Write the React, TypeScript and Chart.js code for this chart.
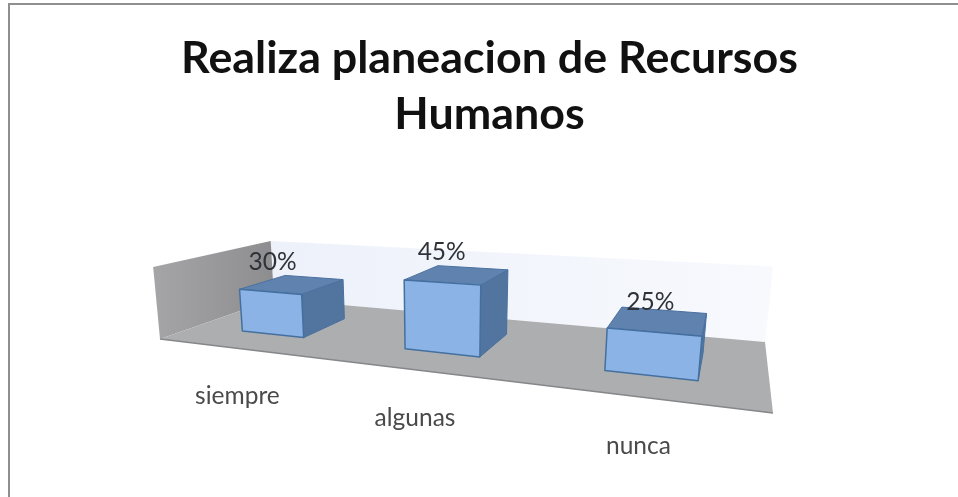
import React, { useEffect, useRef } from "react";
import { Chart, registerables } from "chart.js";

Chart.register(...registerables);

const titleLines = ["Realiza planeacion de Recursos", "Humanos"];
const categories = ["siempre", "algunas", "nunca"];
const percentages = [30, 45, 25];
const axisMax = 50;

// Perspective of the floor: front-left, front-right, back-right, back-left
const floorQuad = [[160, 339], [773, 413], [765, 342], [274, 299]];
const wallPixelHeight = 72;
const FRONT = 0.28;
const BACK = 0.7;
const BAR_SHIFT = 0.005;

function makeHomography() {
  const [p0, p1, p2, p3] = floorQuad;
  const dx1 = p1[0] - p2[0], dx2 = p3[0] - p2[0], sx = p0[0] - p1[0] + p2[0] - p3[0];
  const dy1 = p1[1] - p2[1], dy2 = p3[1] - p2[1], sy = p0[1] - p1[1] + p2[1] - p3[1];
  const den = dx1 * dy2 - dx2 * dy1;
  const g = (sx * dy2 - dx2 * sy) / den;
  const h = (dx1 * sy - sx * dy1) / den;
  const a = p1[0] - p0[0] + g * p1[0], b = p3[0] - p0[0] + h * p3[0], c = p0[0];
  const d = p1[1] - p0[1] + g * p1[1], e = p3[1] - p0[1] + h * p3[1], f = p0[1];
  return { a, b, c, d, e, f, g, h };
}
const H = makeHomography();

function projectNorm(u: number, v: number, t: number) {
  const w = H.g * u + H.h * v + 1;
  const x0 = (H.a * u + H.b * v + H.c) / w;
  const y0 = (H.d * u + H.e * v + H.f) / w;
  const dy = (wallPixelHeight * t) / w;
  return { x: x0 + (x0 - 443) * 0.000335 * dy, y: y0 - dy };
}

function poly(ctx: CanvasRenderingContext2D, pts: { x: number; y: number }[], fill: any, stroke?: string, lw = 1) {
  ctx.beginPath();
  pts.forEach((p, i) => (i ? ctx.lineTo(p.x, p.y) : ctx.moveTo(p.x, p.y)));
  ctx.closePath();
  ctx.fillStyle = fill;
  ctx.fill();
  if (stroke) {
    ctx.strokeStyle = stroke;
    ctx.lineWidth = lw;
    ctx.lineJoin = "round";
    ctx.stroke();
  }
}

const scene3d = {
  id: "scene3d",
  beforeDatasetsDraw(chart: any) {
    const { ctx, scales } = chart;
    const xs = scales.x, ys = scales.y;
    const uOf = (px: number) => (px - xs.left) / xs.width + BAR_SHIFT;
    const tOf = (py: number) => (ys.bottom - py) / ys.height;
    ctx.save();

    // page frame
    ctx.strokeStyle = "#8f8f8f";
    ctx.lineWidth = 2;
    ctx.beginPath();
    ctx.moveTo(9, 497);
    ctx.lineTo(9, 4);
    ctx.lineTo(958, 4);
    ctx.stroke();

    // back wall
    const bw = [projectNorm(0, 1, 0), projectNorm(1, 1, 0), projectNorm(1, 1, 1), projectNorm(0, 1, 1)];
    const bwGrad = ctx.createLinearGradient(bw[0].x, 0, bw[1].x, 0);
    bwGrad.addColorStop(0, "#edf1fa");
    bwGrad.addColorStop(1, "#f7f9fd");
    poly(ctx, bw, bwGrad);

    // side wall
    const sw = [projectNorm(0, 0, 0), projectNorm(0, 1, 0), projectNorm(0, 1, 1), projectNorm(0, 0, 1)];
    const swGrad = ctx.createLinearGradient(sw[3].x, 0, sw[2].x, 0);
    swGrad.addColorStop(0, "#a5a5a7");
    swGrad.addColorStop(1, "#8e8e90");
    poly(ctx, sw, swGrad);

    // floor
    const fl = [projectNorm(0, 0, 0), projectNorm(1, 0, 0), projectNorm(1, 1, 0), projectNorm(0, 1, 0)];
    poly(ctx, fl, "#adaeb0");
    ctx.strokeStyle = "#85878a";
    ctx.lineWidth = 1.5;
    ctx.beginPath();
    ctx.moveTo(fl[0].x, fl[0].y);
    ctx.lineTo(fl[1].x, fl[1].y);
    ctx.stroke();

    // bars, from the elements of the bar dataset
    const meta = chart.getDatasetMeta(0);
    meta.data.forEach((bar: any) => {
      const l = uOf(bar.x - bar.width / 2), r = uOf(bar.x + bar.width / 2);
      const top = tOf(bar.y), bot = tOf(bar.base);
      const P = (u: number, v: number, t: number) => projectNorm(u, v, t);
      const edge = "#4a719f";
      poly(ctx, [P(r, FRONT, bot), P(r, BACK, bot), P(r, BACK, top), P(r, FRONT, top)], "#52759f", edge);
      poly(ctx, [P(l, FRONT, top), P(r, FRONT, top), P(r, BACK, top), P(l, BACK, top)], "#5f82af", edge);
      poly(ctx, [P(l, FRONT, bot), P(r, FRONT, bot), P(r, FRONT, top), P(l, FRONT, top)], "#8cb3e6", "#44709f", 1.5);
    });
    ctx.restore();
  },
  afterDatasetsDraw(chart: any) {
    const { ctx, scales } = chart;
    const xs = scales.x, ys = scales.y;
    const uOf = (px: number) => (px - xs.left) / xs.width + BAR_SHIFT;
    const tOf = (py: number) => (ys.bottom - py) / ys.height;
    const meta = chart.getDatasetMeta(0);
    ctx.save();
    ctx.textAlign = "center";
    ctx.textBaseline = "middle";
    ctx.font = "24.5px Lato";
    meta.data.forEach((bar: any, i: number) => {
      const u = uOf(bar.x);
      const lab = projectNorm(u, FRONT, tOf(bar.y));
      ctx.fillStyle = "#2f3237";
      ctx.fillText(percentages[i] + "%", lab.x - 0.015 * (lab.x - 443), lab.y - 30);
      const cat = projectNorm(u - BAR_SHIFT, -0.05, 0);
      ctx.fillStyle = "#4a4a4a";
      ctx.fillText(categories[i], cat.x + 5 - 0.0147 * (cat.x - 410), cat.y + 45);
    });
    ctx.restore();
  },
};

export default function App() {
  const ref = useRef<HTMLCanvasElement | null>(null);
  useEffect(() => {
    document.body.style.margin = "0";
    document.body.style.background = "#ffffff";
    const chart = new Chart(ref.current as HTMLCanvasElement, {
      type: "bar",
      data: {
        labels: categories,
        datasets: [
          {
            data: percentages,
            backgroundColor: "rgba(0,0,0,0)",
            borderWidth: 0,
            barPercentage: 0.4,
            categoryPercentage: 1,
          },
        ],
      },
      options: {
        responsive: false,
        animation: false,
        layout: { padding: { left: 21, right: 0, top: 0, bottom: 84 } },
        plugins: {
          legend: { display: false },
          tooltip: { enabled: false },
          title: {
            display: true,
            text: titleLines,
            color: "#111111",
            font: { family: "Lato", size: 44.8, weight: "bold", lineHeight: 1.25 },
            padding: { top: 31, bottom: 120 },
          },
        },
        scales: {
          x: { display: false },
          y: { display: false, min: 0, max: axisMax },
        },
      },
      plugins: [scene3d],
    } as any);
    return () => chart.destroy();
  }, []);
  return <canvas ref={ref} width={958} height={497} style={{ display: "block" }} />;
}
